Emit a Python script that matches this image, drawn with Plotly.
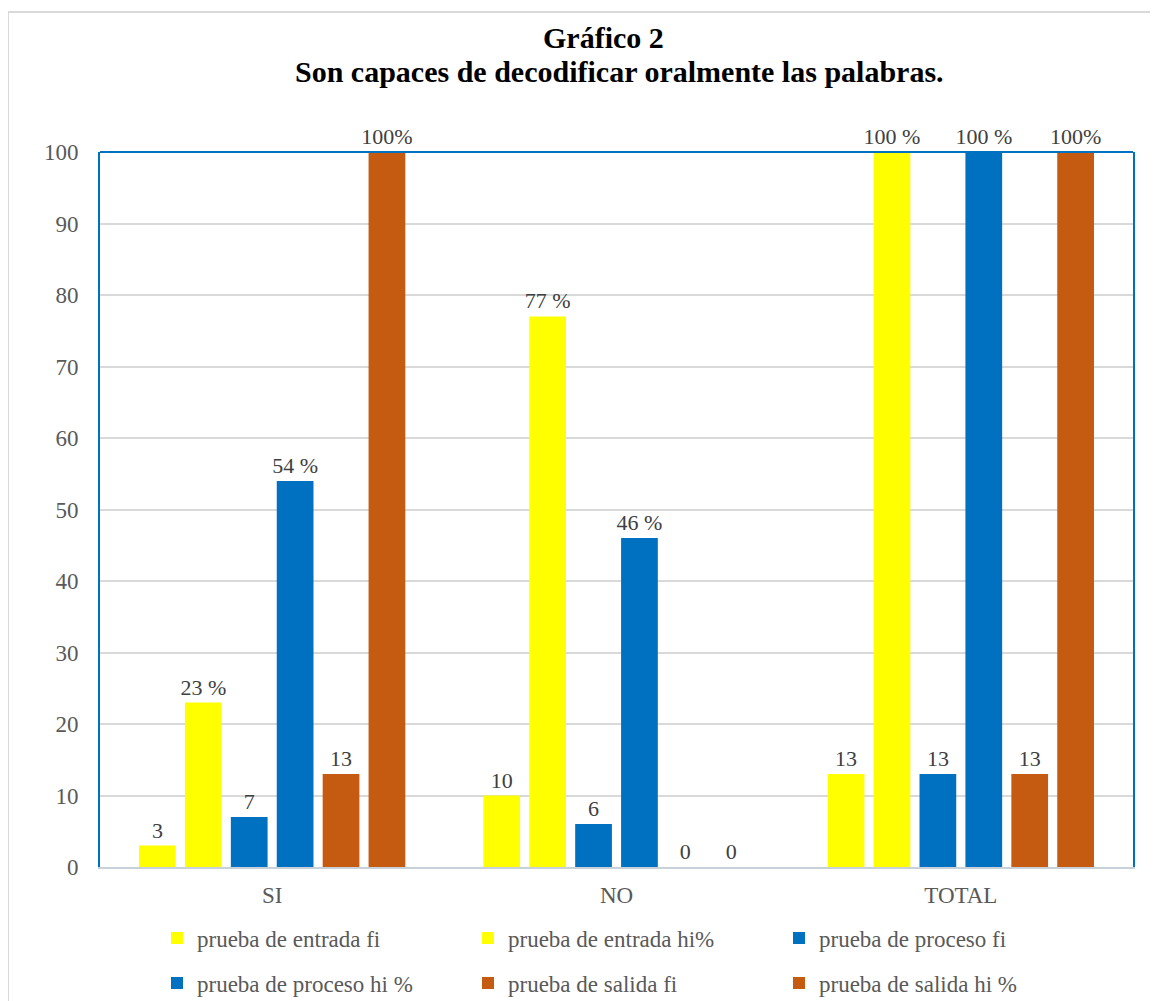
import plotly.graph_objects as go

categories = ["SI", "NO", "TOTAL"]
series_names = ["prueba de entrada fi", "prueba de entrada hi%", "prueba de proceso fi",
                "prueba de proceso hi %", "prueba de salida fi", "prueba de salida hi %"]
entrada_fi = [3, 10, 13]
entrada_hi = [23, 77, 100]
proceso_fi = [7, 6, 13]
proceso_hi = [54, 46, 100]
salida_fi = [13, 0, 13]
salida_hi = [100, 0, 100]
labels = [
    ["3", "10", "13"],
    ["23 %", "77 %", "100 %"],
    ["7", "6", "13"],
    ["54 %", "46 %", "100 %"],
    ["13", "0", "13"],
    ["100%", "0", "100%"],
]
title_lines = ["Gráfico 2", "Son capaces de decodificar oralmente las palabras."]
values = [entrada_fi, entrada_hi, proceso_fi, proceso_hi, salida_fi, salida_hi]
colors = ["#FFFF00", "#FFFF00", "#0070C0", "#0070C0", "#C55A11", "#C55A11"]
legend_ids = ["legend", "legend", "legend", "legend2", "legend2", "legend2"]

FONT = "Liberation Serif, Times New Roman, serif"
FS = 23

fig = go.Figure()
for name, vals, lab, col, lg in zip(series_names, values, labels, colors, legend_ids):
    fig.add_trace(go.Bar(
        x=categories, y=vals, name=name, marker=dict(color=col, line=dict(width=0)),
        text=lab, textposition="outside", cliponaxis=False, constraintext="none",
        textfont=dict(family=FONT, size=FS - 1, color="#404040"),
        legend=lg,
    ))

# page offset (body margin) of 8 px
OFF = 8
W, H = 1150, 993
L, T = 100 - OFF, 152 - OFF
R = W - (1133 - OFF)
B = H - (867 - OFF)
pw, ph = W - L - R, H - T - B

def px_x(x):
    return (x - OFF - L) / pw

def px_y(y):
    return (H - B - (y - OFF)) / ph

legend_common = dict(orientation="h", xanchor="left", yanchor="middle",
                     entrywidth=266, entrywidthmode="pixels",
                     font=dict(family=FONT, size=FS, color="#595959"), itemclick=False)

fig.update_layout(
    width=W, height=H,
    margin=dict(l=L, r=R, t=T, b=B, autoexpand=False),
    paper_bgcolor="white", plot_bgcolor="white",
    font=dict(family=FONT, color="#595959", size=FS),
    barmode="group", bargap=0.2, bargroupgap=0.2,
    xaxis=dict(showgrid=False, showline=True, linecolor="#c8d0da", linewidth=2,
               ticks="", ticklabelstandoff=6,
               tickfont=dict(family=FONT, size=FS, color="#595959")),
    yaxis=dict(range=[0, 100], dtick=10, showgrid=True, gridcolor="#d9d9d9", gridwidth=2,
               showline=True, linecolor="#0070C0", linewidth=2, mirror=True,
               zeroline=False, ticks="", ticklabelstandoff=15,
               tickfont=dict(family=FONT, size=FS, color="#595959")),
    legend=dict(x=px_x(157), y=px_y(938), **legend_common),
    legend2=dict(x=px_x(157), y=px_y(983), **legend_common),
    showlegend=True,
    annotations=[
        dict(text="<b>%s</b>" % title_lines[0], xref="paper", yref="paper",
             x=px_x(603), y=px_y(37), xanchor="center", yanchor="middle",
             showarrow=False, font=dict(family=FONT, size=30, color="black")),
        dict(text="<b>%s</b>" % title_lines[1], xref="paper", yref="paper",
             x=px_x(619), y=px_y(71), xanchor="center", yanchor="middle",
             showarrow=False, font=dict(family=FONT, size=30, color="black")),
    ],
    shapes=[
        dict(type="line", xref="paper", yref="paper", x0=0, x1=1, y0=1, y1=1,
             line=dict(color="#0070C0", width=2), layer="above"),
        dict(type="rect", xref="paper", yref="paper",
             x0=px_x(8), x1=px_x(1175), y0=px_y(12), y1=px_y(1030),
             line=dict(color="#d9d9d9", width=2), layer="below"),
    ],
)

fig.write_html("out.html")
